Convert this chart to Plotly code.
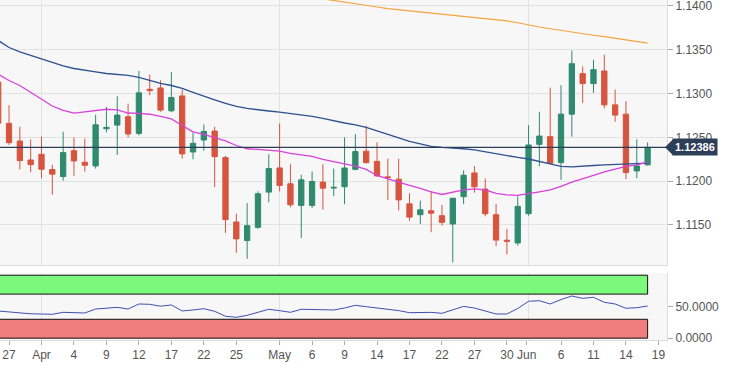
import pandas as pd
import plotly.graph_objects as go
from plotly.subplots import make_subplots

# Trading days (weekdays) 26 Mar 2019 .. 18 Jun 2019
dates = pd.bdate_range("2019-03-26", "2019-06-18")

open_ = [1.1313, 1.12659, 1.12458, 1.12242, 1.12307, 1.12133, 1.12053, 1.12348, 1.12216, 1.12174,
         1.12598, 1.12640, 1.12735, 1.12545, 1.13049, 1.13064, 1.12803, 1.12973, 1.12333, 1.12470,
         1.12572, 1.12269, 1.11534, 1.11322, 1.11473, 1.11875, 1.12151, 1.11970, 1.11723, 1.11723,
         1.11989, 1.11921, 1.11936, 1.12135, 1.12342, 1.12226, 1.12049, 1.12023, 1.11741, 1.11617,
         1.11662, 1.11605, 1.11511, 1.11823, 1.12094, 1.11910, 1.11617, 1.11326, 1.11295, 1.11629,
         1.12420, 1.12508, 1.12212, 1.12765, 1.13227, 1.13114, 1.13258, 1.12871, 1.12765, 1.12117,
         1.12186]
high = [1.1326, 1.12867, 1.12621, 1.12477, 1.12508, 1.12186, 1.12564, 1.12500, 1.12485, 1.12758,
        1.12848, 1.12970, 1.12886, 1.13258, 1.13216, 1.13152, 1.13246, 1.13045, 1.12553, 1.12648,
        1.12621, 1.12288, 1.11629, 1.11750, 1.11883, 1.12307, 1.12659, 1.12193, 1.12072, 1.12110,
        1.12193, 1.12143, 1.12500, 1.12538, 1.12632, 1.12444, 1.12256, 1.12256, 1.11861, 1.11778,
        1.11887, 1.11729, 1.11805, 1.12124, 1.12173, 1.12030, 1.11741, 1.11454, 1.11826, 1.12640,
        1.12792, 1.13068, 1.13095, 1.13492, 1.13310, 1.13386, 1.13443, 1.13045, 1.12913, 1.12477,
        1.12443]
low = [1.1262, 1.12413, 1.12136, 1.12102, 1.12034, 1.11845, 1.12004, 1.12061, 1.12110, 1.12144,
       1.12557, 1.12299, 1.12500, 1.12523, 1.12981, 1.12792, 1.12788, 1.12258, 1.12250, 1.12348,
       1.11932, 1.11409, 1.11182, 1.11114, 1.11458, 1.11758, 1.11883, 1.11701, 1.11352, 1.11693,
       1.11674, 1.11831, 1.11737, 1.12124, 1.12200, 1.12049, 1.11786, 1.11665, 1.11549, 1.11511,
       1.11417, 1.11493, 1.11072, 1.11737, 1.11868, 1.11598, 1.11260, 1.11163, 1.11265, 1.11606,
       1.12171, 1.12197, 1.12015, 1.12508, 1.12894, 1.13008, 1.12830, 1.12678, 1.12023, 1.12034,
       1.12178]
close = [1.12662, 1.12439, 1.12235, 1.12189, 1.12136, 1.12080, 1.12326, 1.12231, 1.12182, 1.12644,
         1.12614, 1.12754, 1.12538, 1.13008, 1.13034, 1.12811, 1.12955, 1.12311, 1.12432, 1.12568,
         1.12280, 1.11561, 1.11341, 1.11492, 1.11856, 1.12144, 1.11951, 1.11731, 1.12015, 1.11996,
         1.11920, 1.11929, 1.12150, 1.12338, 1.12211, 1.12060, 1.12041, 1.11786, 1.11590, 1.11673,
         1.11635, 1.11530, 1.11805, 1.12068, 1.11936, 1.11628, 1.11327, 1.11314, 1.11712, 1.12413,
         1.12515, 1.12205, 1.12765, 1.13341, 1.13114, 1.13273, 1.12871, 1.12754, 1.12098, 1.12174,
         1.12386]

ma_blue = [1.13606, 1.13526, 1.13475, 1.13435, 1.13389, 1.13349, 1.13315, 1.13286, 1.13264, 1.13247,
           1.13229, 1.13218, 1.13207, 1.13184, 1.13150, 1.13115, 1.13092, 1.13058, 1.13013, 1.12967,
           1.12927, 1.12887, 1.12853, 1.12830, 1.12813, 1.12801, 1.12788, 1.12773, 1.12756, 1.12739,
           1.12716, 1.12687, 1.12664, 1.12642, 1.12613, 1.12573, 1.12533, 1.12493, 1.12453, 1.12425,
           1.12396, 1.12385, 1.12379, 1.12370, 1.12356, 1.12333, 1.12310, 1.12288, 1.12271, 1.12253,
           1.12225, 1.12191, 1.12168, 1.12164, 1.12168, 1.12179, 1.12187, 1.12193, 1.12196, 1.12200,
           1.12205]
ma_magenta = [1.13220, 1.13149, 1.13092, 1.13013, 1.12933, 1.12858, 1.12807, 1.12776, 1.12790, 1.12807,
              1.12821, 1.12813, 1.12778, 1.12773, 1.12764, 1.12739, 1.12710, 1.12636, 1.12562, 1.12533,
              1.12499, 1.12459, 1.12407, 1.12370, 1.12362, 1.12356, 1.12342, 1.12316, 1.12299, 1.12282,
              1.12248, 1.12225, 1.12202, 1.12173, 1.12134, 1.12065, 1.12025, 1.11985, 1.11951, 1.11917,
              1.11877, 1.11848, 1.11871, 1.11900, 1.11911, 1.11900, 1.11860, 1.11843, 1.11837, 1.11854,
              1.11877, 1.11900, 1.11940, 1.11989, 1.12031, 1.12065, 1.12105, 1.12140, 1.12168, 1.12185,
              1.12217]
# 200-period average, only the visible part (from 6 May 2019)
ma_orange = [1.14100, 1.14080, 1.14060, 1.14042, 1.14024, 1.14005, 1.13988, 1.13970, 1.13958, 1.13946,
             1.13934, 1.13922, 1.13910, 1.13898, 1.13886, 1.13874, 1.13862, 1.13850, 1.13830, 1.13808,
             1.13780, 1.13760, 1.13740, 1.13720, 1.13701, 1.13683, 1.13666, 1.13649, 1.13632, 1.13613,
             1.13594, 1.13575]
rsi = [43.2, 41.6, 39.5, 38.7, 38.4, 37.9, 41.1, 40.6, 40.0, 46.3,
       47.1, 49.0, 46.3, 54.3, 53.8, 50.8, 52.7, 43.2, 44.8, 46.8,
       42.7, 34.8, 33.2, 36.3, 41.1, 45.9, 43.7, 41.1, 45.9, 45.4,
       44.8, 44.8, 47.9, 52.2, 50.0, 47.9, 46.8, 43.8, 40.5, 41.1,
       41.0, 39.5, 45.2, 50.5, 47.9, 42.7, 38.4, 38.4, 47.1, 58.6,
       59.5, 54.3, 61.4, 67.0, 63.3, 64.9, 57.0, 54.3, 47.5, 48.4,
       51.1]

tick_dates = ["2019-03-27", "2019-04-01", "2019-04-04", "2019-04-09", "2019-04-12", "2019-04-17",
              "2019-04-22", "2019-04-25", "2019-05-01", "2019-05-06", "2019-05-09", "2019-05-14",
              "2019-05-17", "2019-05-22", "2019-05-27", "2019-05-30", "2019-05-31 20:00",
              "2019-06-06", "2019-06-11", "2019-06-14", "2019-06-19"]
tick_text = ["27", "Apr", "4", "9", "12", "17", "22", "25", "May", "6", "9", "14", "17", "22",
             "27", "30", "Jun", "6", "11", "14", "19"]
month_starts = ["2019-04-01", "2019-05-01", "2019-06-03"]
price_ticks = [1.115, 1.120, 1.125, 1.130, 1.135, 1.140]
rsi_ticks = [0, 50]

GREEN = "#2f8a6e"
RED = "#d6553f"
NAVY = "#2c3e58"
FONT = "Liberation Sans, Arial, sans-serif"

fig = make_subplots(rows=2, cols=1, shared_xaxes=True)

fig.add_trace(go.Candlestick(
    x=dates, open=open_, high=high, low=low, close=close,
    increasing=dict(line=dict(color=GREEN, width=1), fillcolor=GREEN),
    decreasing=dict(line=dict(color=RED, width=1), fillcolor=RED),
    showlegend=False, hoverinfo="skip"), row=1, col=1)
fig.add_trace(go.Scatter(x=dates, y=ma_blue, mode="lines",
                         line=dict(color="#2e5190", width=1.3), showlegend=False, hoverinfo="skip"),
              row=1, col=1)
fig.add_trace(go.Scatter(x=dates, y=ma_magenta, mode="lines",
                         line=dict(color="#d93fd9", width=1.3), showlegend=False, hoverinfo="skip"),
              row=1, col=1)
fig.add_trace(go.Scatter(x=dates[len(dates) - len(ma_orange):], y=ma_orange, mode="lines",
                         line=dict(color="#f5a33c", width=1.2), showlegend=False, hoverinfo="skip"),
              row=1, col=1)
fig.add_trace(go.Scatter(x=dates, y=rsi, mode="lines",
                         line=dict(color="#3f4fb0", width=1), showlegend=False, hoverinfo="skip"),
              row=2, col=1)

# RSI zones
fig.add_shape(type="rect", xref="x2", yref="y2", x0="2019-03-22", x1=dates[-1], y0=70, y1=100,
              fillcolor="#7cf87c", line=dict(color="#111", width=1), layer="above")
fig.add_shape(type="rect", xref="x2", yref="y2", x0="2019-03-22", x1=dates[-1], y0=0, y1=30,
              fillcolor="#f07e7e", line=dict(color="#111", width=1), layer="above")

# current price line and label
last = close[-1]
fig.add_shape(type="line", xref="paper", yref="y", x0=0, x1=1, y0=last, y1=last,
              line=dict(color=NAVY, width=1.2), layer="above")
fig.add_shape(type="path", xref="paper", yref="y", xsizemode="pixel", ysizemode="pixel",
              xanchor=1, yanchor=last, path="M -2,0 L 6,8 L 6,-8 Z",
              fillcolor=NAVY, line=dict(width=0))
fig.add_annotation(xref="paper", yref="y", x=1, y=last, xanchor="left", yanchor="middle",
                   xshift=5, text="<b>%.5f</b>" % last, showarrow=False,
                   font=dict(color="white", size=11, family=FONT), bgcolor=NAVY,
                   borderpad=2)

axis_font = dict(size=12, color="#555", family=FONT)
fig.update_xaxes(rangebreaks=[dict(bounds=["sat", "mon"])],
                 range=["2019-03-26 04:00", "2019-06-19 19:00"],
                 showgrid=False, zeroline=False, automargin=False,
                 showline=True, linecolor="#dcdcdc", linewidth=1,
                 minor=dict(tickmode="array", tickvals=month_starts, showgrid=True,
                            gridcolor="#e2e2e2", gridwidth=1, ticks=""),
                 rangeslider=dict(visible=False))
fig.update_xaxes(showticklabels=False, ticks="", row=1, col=1)
fig.update_xaxes(tickmode="array", tickvals=tick_dates, ticktext=tick_text, tickangle=0,
                 showticklabels=True, ticks="outside", ticklen=4, tickcolor="#aaa",
                 tickfont=axis_font, ticklabeloverflow="allow", row=2, col=1)

fig.update_yaxes(side="right", domain=[0.2206, 1], range=[1.11043, 1.14068],
                 tickmode="array", tickvals=price_ticks, tickformat=".4f",
                 showgrid=True, gridcolor="#e2e2e2", gridwidth=1, zeroline=False,
                 ticks="outside", ticklen=5, tickcolor="#aaa", tickfont=axis_font,
                 automargin=False, ticklabeloverflow="allow",
                 showline=True, linecolor="#dcdcdc", row=1, col=1)
fig.update_yaxes(side="right", domain=[0, 0.197], range=[-2.9, 103.5],
                 tickmode="array", tickvals=rsi_ticks, tickformat=".4f",
                 showgrid=False, zeroline=False,
                 ticks="outside", ticklen=5, tickcolor="#aaa", tickfont=axis_font,
                 automargin=False, ticklabeloverflow="allow",
                 showline=True, linecolor="#dcdcdc", row=2, col=1)

fig.update_layout(width=729, height=368, margin=dict(l=0, r=62, t=0, b=28, autoexpand=False),
                  paper_bgcolor="white", plot_bgcolor="#f7f7f7",
                  font=dict(family=FONT), showlegend=False)

fig.write_html("out.html", config={"displayModeBar": False},
               post_script="document.body.style.margin='0';")
